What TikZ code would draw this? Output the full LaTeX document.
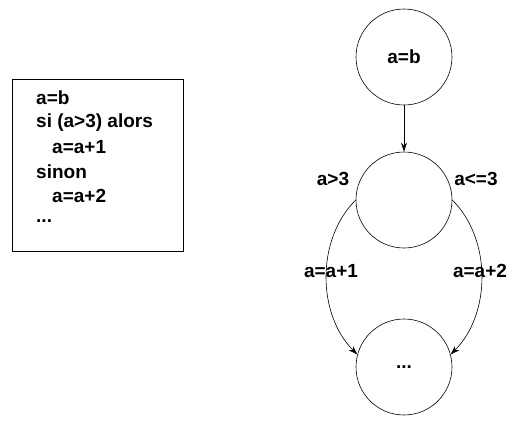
\documentclass[tikz,border=0pt]{standalone}
\usepackage{fontspec}
\setmainfont{Liberation Sans}
\usetikzlibrary{arrows.meta}
\begin{document}
\begin{tikzpicture}[x=1pt,y=-1pt,
  lbl/.style={font=\bfseries\fontsize{19}{22}\selectfont, inner sep=0pt},
  state/.style={draw, circle, minimum size=96pt, inner sep=0pt, line width=0.6pt, font=\bfseries\fontsize{19}{22}\selectfont},
  conn/.style={line width=0.6pt, -{Stealth[length=9pt,width=6pt]}},
  codeline/.style={lbl, anchor=west}]
\useasboundingbox (0,0) rectangle (515,423);
\node[draw, line width=0.7pt, minimum width=171pt, minimum height=172pt, inner sep=0pt] (box) at (97.5,165) {};
\node[codeline] (l1) at (36,98) {a=b};
\node[codeline] (l2) at (36,123) {si (a>3) alors};
\node[codeline] (l3) at (52,147) {a=a+1};
\node[codeline] (l4) at (36,172) {sinon};
\node[codeline] (l5) at (52,196) {a=a+2};
\node[codeline] (l6) at (36,221) {...};
\node[state] (top) at (404,57) {a=b};
\node[state] (mid) at (404,200) {};
\node[state] (bot) at (404,367) {...};
\draw[conn] (top) -- (mid);
\draw[conn] (mid.west) .. controls ([shift={(-40,40)}]mid.west) and ([shift={(-40,-40)}]bot.165) .. (bot.165);
\draw[conn] (mid.east) .. controls ([shift={(40,40)}]mid.east) and ([shift={(40,-40)}]bot.15) .. (bot.15);
\node[lbl] (c1) at (333,179) {a>3};
\node[lbl] (c2) at (476,179) {a<=3};
\node[lbl] (e1) at (331,271) {a=a+1};
\node[lbl] (e2) at (480,271) {a=a+2};
\end{tikzpicture}
\end{document}
